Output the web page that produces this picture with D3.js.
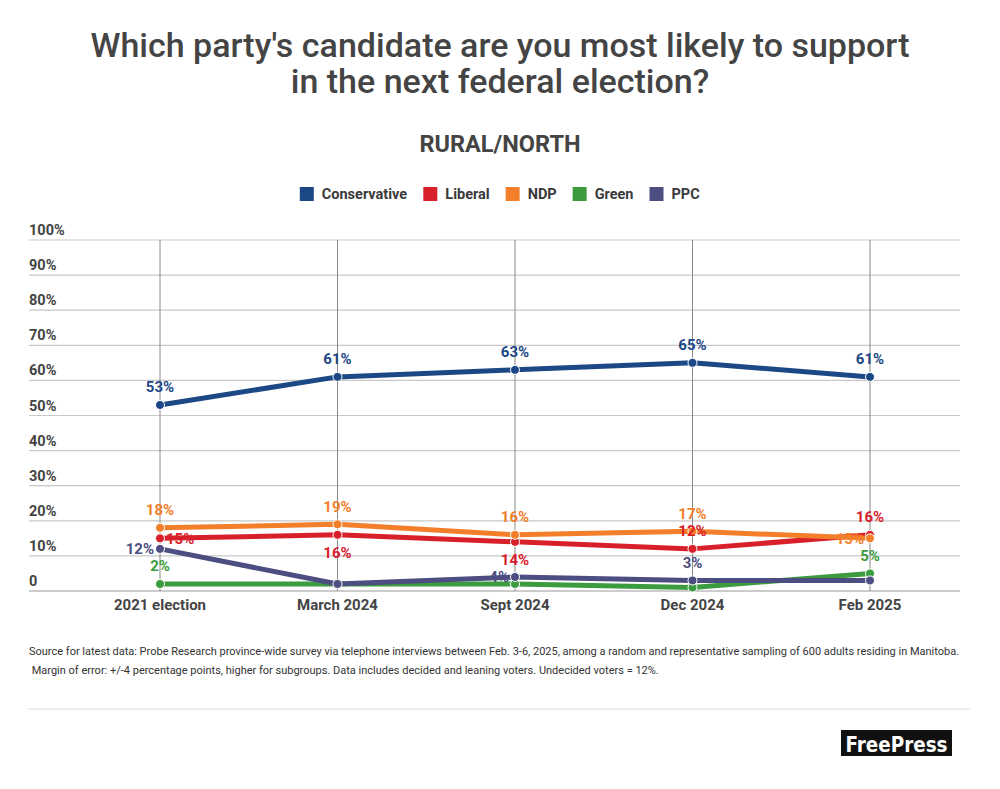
<!DOCTYPE html>
<html>
<head>
<meta charset="utf-8">
<script src="https://cdn.jsdelivr.net/npm/d3@7"></script>
<style>
  html, body { margin: 0; padding: 0; background: #fff; }
  svg { display: block; font-family: Roboto, "Noto Sans", sans-serif; }
</style>
</head>
<body>
<svg id="chart" width="1000" height="789"></svg>
<script>
// data
const periods = ["2021 election", "March 2024", "Sept 2024", "Dec 2024", "Feb 2025"];
const parties = ["Conservative", "Liberal", "NDP", "Green", "PPC"];
const conservative = [53, 61, 63, 65, 61];
const liberal = [15, 16, 14, 12, 16];
const ndp = [18, 19, 16, 17, 15];
const green = [2, 2, 2, 1, 5];
const ppc = [12, 2, 4, 3, 3];
const yTicks = [0, 10, 20, 30, 40, 50, 60, 70, 80, 90, 100];
const titleLines = ["Which party's candidate are you most likely to support", "in the next federal election?"];

// styling / label placement (null = label hidden)
const partyColors = ["#1d4886", "#d7202a", "#f37f2a", "#3c9b3e", "#4c4d80"];
const labelPlace = {
  Conservative: ["up", "up", "up", "up", "up"],
  Liberal: ["right", "down", "down", "up", "up"],
  NDP: ["up", "up", "up", "up", "left"],
  Green: ["up", null, null, null, "up"],
  PPC: ["left", null, "left", "up", null]
};

const series = parties.map((p, i) => ({
  name: p,
  color: partyColors[i],
  values: [conservative, liberal, ndp, green, ppc][i]
}));

const svg = d3.select("#chart");
const textCol = "#444";

// titles
svg.selectAll("text.title").data(titleLines).enter().append("text")
  .attr("class", "title")
  .attr("x", 500).attr("y", (d, i) => 57 + i * 36)
  .attr("text-anchor", "middle")
  .style("font-size", "34px").style("font-weight", "500").style("fill", textCol)
  .text(d => d);

svg.append("text")
  .attr("x", 500).attr("y", 152)
  .attr("text-anchor", "middle")
  .style("font-size", "23.5px").style("font-weight", "bold").style("fill", textCol)
  .text("RURAL/NORTH");

// legend
const legend = svg.append("g").attr("transform", "translate(0,194)");
const legendItems = legend.selectAll("g").data(series).enter().append("g");
legendItems.append("rect")
  .attr("width", 14).attr("height", 14).attr("y", -7)
  .attr("fill", d => d.color);
legendItems.append("text")
  .attr("x", 22).attr("dy", "0.35em")
  .style("font-size", "14.5px").style("font-weight", "bold").style("fill", "#3a3a3a")
  .text(d => d.name);
let lx = 0;
const gaps = [];
legendItems.each(function () {
  const w = this.getBBox().width;
  gaps.push(lx);
  lx += w + 16;
});
const lStart = 500 - (lx - 16) / 2;
legendItems.attr("transform", (d, i) => `translate(${lStart + gaps[i]},0)`);

// scales
const x = d3.scalePoint().domain(periods).range([160, 870]);
const y = d3.scaleLinear().domain([0, 100]).range([591, 240]);

// horizontal grid + y labels
const grid = svg.append("g");
grid.selectAll("line.h").data(yTicks).enter().append("line")
  .attr("class", "h")
  .attr("x1", 29).attr("x2", 960)
  .attr("y1", d => y(d)).attr("y2", d => y(d))
  .attr("stroke", d => d === 0 ? "#999" : "#c8c8c8")
  .attr("stroke-width", 1.2);
grid.selectAll("text.yl").data(yTicks).enter().append("text")
  .attr("class", "yl")
  .attr("x", 29).attr("y", d => y(d) - 5)
  .style("font-size", "14.5px").style("font-weight", "bold").style("fill", textCol)
  .text(d => d === 0 ? "0" : d + "%");

// vertical grid at categories
grid.selectAll("line.v").data(periods).enter().append("line")
  .attr("class", "v")
  .attr("x1", d => x(d)).attr("x2", d => x(d))
  .attr("y1", y(100)).attr("y2", y(0))
  .attr("stroke", "#888").attr("stroke-width", 1);

// x axis labels
svg.append("g").selectAll("text").data(periods).enter().append("text")
  .attr("x", d => x(d)).attr("y", 610)
  .attr("text-anchor", "middle")
  .style("font-size", "15px").style("font-weight", "bold").style("fill", textCol)
  .text(d => d);

// lines
const line = d3.line().x((d, i) => x(periods[i])).y(d => y(d));
const lines = svg.append("g");
series.forEach(s => {
  const g = lines.append("g");
  g.append("path")
    .attr("d", line(s.values))
    .attr("fill", "none")
    .attr("stroke", s.color)
    .attr("stroke-width", 5)
    .attr("stroke-linejoin", "round");
  g.selectAll("circle").data(s.values).enter().append("circle")
    .attr("cx", (d, i) => x(periods[i]))
    .attr("cy", d => y(d))
    .attr("r", 4.5)
    .attr("fill", s.color)
    .attr("stroke", "#fff").attr("stroke-width", 1);
});

// data labels
const labels = svg.append("g");
series.forEach(s => {
  s.values.forEach((v, i) => {
    const place = labelPlace[s.name][i];
    if (!place) return;
    let px = x(periods[i]), py = y(v), anchor = "middle";
    if (place === "up") py -= 18;
    if (place === "down") py += 18;
    if (place === "left") { px -= 6; anchor = "end"; }
    if (place === "right") { px += 6; anchor = "start"; }
    labels.append("text")
      .attr("x", px).attr("y", py)
      .attr("dy", "0.35em")
      .attr("text-anchor", anchor)
      .style("font-size", "15px").style("font-weight", "bold")
      .style("fill", s.color)
      .text(v + "%");
  });
});

// source note
const noteLines = [
  "Source for latest data: Probe Research province-wide survey via telephone interviews between Feb. 3-6, 2025, among a random and representative sampling of 600 adults residing in Manitoba.",
  " Margin of error: +/-4 percentage points, higher for subgroups. Data includes decided and leaning voters. Undecided voters = 12%."
];
svg.selectAll("text.note").data(noteLines).enter().append("text")
  .attr("class", "note")
  .attr("x", 29).attr("y", (d, i) => 655 + i * 19)
  .attr("xml:space", "preserve")
  .style("white-space", "pre")
  .style("font-size", "11px").style("fill", "#333")
  .text(d => d);

svg.append("line")
  .attr("x1", 28).attr("x2", 970).attr("y1", 709).attr("y2", 709)
  .attr("stroke", "#ddd").attr("stroke-width", 1);

// logo
const logo = svg.append("g").attr("transform", "translate(841,730)");
logo.append("rect").attr("width", 111).attr("height", 26).attr("fill", "#111");
logo.append("text")
  .attr("x", 55.5).attr("y", 22)
  .attr("text-anchor", "middle")
  .attr("textLength", 102).attr("lengthAdjust", "spacingAndGlyphs")
  .style("font-family", "'Liberation Sans Narrow', 'DejaVu Sans Condensed', sans-serif")
  .style("font-size", "22px").style("font-weight", "bold").style("fill", "#fff")
  .text("FreePress");
</script>
</body>
</html>
